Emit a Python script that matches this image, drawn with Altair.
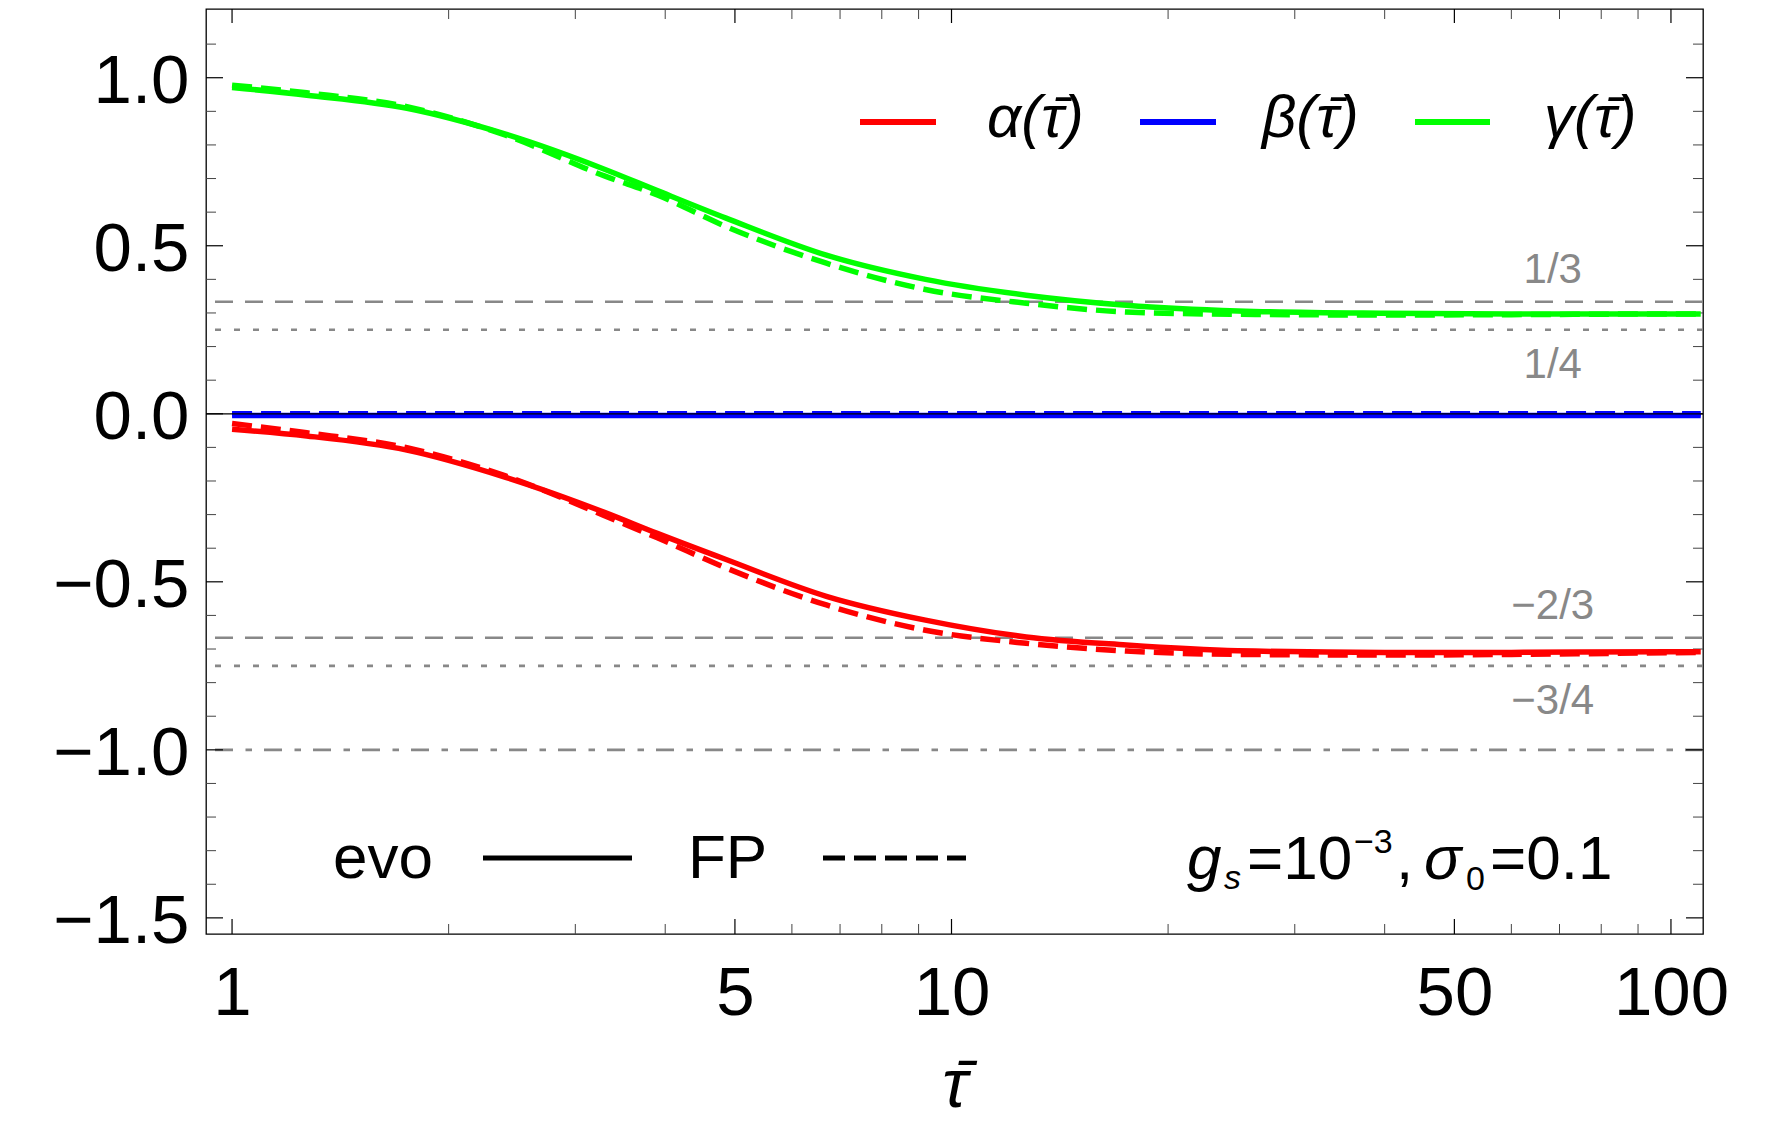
import altair as alt
import pandas as pd

FONT = "Liberation Sans"

# ---- data ----
t_vals = [1, 1.27, 1.75, 2.4, 3.3, 3.9, 4.85, 6.7, 9.2, 12.7, 17.5, 25, 40, 60, 100, 110]
alpha_evo = [-0.046, -0.066, -0.108, -0.189, -0.294, -0.356, -0.433, -0.543, -0.614, -0.664, -0.688, -0.705, -0.710, -0.710, -0.708, -0.708]
alpha_fp = [-0.029, -0.0565, -0.101, -0.185, -0.304, -0.369, -0.458, -0.569, -0.644, -0.683, -0.706, -0.716, -0.718, -0.716, -0.711, -0.710]
beta_evo = [-0.005, -0.005, -0.005, -0.005, -0.005, -0.005, -0.005, -0.005, -0.005, -0.005, -0.005, -0.005, -0.005, -0.005, -0.005, -0.005]
beta_fp = [0.0, 0.0, 0.0, 0.0, 0.0, 0.0, 0.0, 0.0, 0.0, 0.0, 0.0, 0.0, 0.0, 0.0, 0.0, 0.0]
gamma_evo = [0.971, 0.948, 0.909, 0.832, 0.727, 0.664, 0.583, 0.472, 0.400, 0.353, 0.323, 0.306, 0.299, 0.297, 0.297, 0.297]
gamma_fp = [0.978, 0.955, 0.914, 0.829, 0.707, 0.651, 0.558, 0.448, 0.370, 0.329, 0.303, 0.296, 0.294, 0.295, 0.297, 0.297]

funcs = ["alpha", "beta", "gamma"]
func_colors = ["#ff0000", "#0000ff", "#00ff00"]

x_tick_values = [1, 5, 10, 50, 100]
x_minor_ticks = [2, 3, 4, 6, 7, 8, 9, 20, 30, 40, 60, 70, 80, 90]
y_tick_values = [-1.5, -1.0, -0.5, 0.0, 0.5, 1.0]
y_minor_ticks = [-1.4, -1.3, -1.2, -1.1, -0.9, -0.8, -0.7, -0.6, -0.4, -0.3, -0.2, -0.1,
                 0.1, 0.2, 0.3, 0.4, 0.6, 0.7, 0.8, 0.9, 1.1]

ref_dashed = [1 / 3, -2 / 3]
ref_dotted = [1 / 4, -3 / 4]
ref_dashdot = [-1.0]
ref_labels_above = ["1/3", "\u22122/3"]
ref_labels_below = ["1/4", "\u22123/4"]
ref_label_x = 68.5

# ---- build tables ----
rows = []
series = {("alpha", "evo"): alpha_evo, ("alpha", "FP"): alpha_fp,
          ("beta", "evo"): beta_evo, ("beta", "FP"): beta_fp,
          ("gamma", "evo"): gamma_evo, ("gamma", "FP"): gamma_fp}
for (f, m), vals in series.items():
    for t, v in zip(t_vals, vals):
        rows.append({"t": t, "v": v, "func": f, "model": m})
df = pd.DataFrame(rows)

W, H = 1497, 925
xscale = alt.Scale(type="log", domain=[0.92, 110.8], nice=False)
yscale = alt.Scale(domain=[-1.548, 1.2045], nice=False, zero=False)
xaxis = alt.Axis(values=x_tick_values, format="d", labelFont=FONT, labelFontSize=69,
                 labelColor="black", labelPadding=25, ticks=False, tickSize=0, domain=False,
                 grid=False, labelFlush=False, labelOverlap=False,
                 title="\u03c4\u0304", titleFont=FONT, titleFontSize=68, titleFontStyle="italic",
                 titleFontWeight="normal", titleColor="black", titlePadding=24)
yaxis = alt.Axis(values=y_tick_values, format=".1f", labelFont=FONT, labelFontSize=69,
                 labelColor="black", labelPadding=17, ticks=False, tickSize=0, domain=False,
                 grid=False, labelFlush=False, labelOverlap=False, labelOffset=4, title=None)

X = lambda f: alt.X(f, type="quantitative", scale=xscale, axis=xaxis)
Y = lambda f: alt.Y(f, type="quantitative", scale=yscale, axis=yaxis)

color = alt.Color("func:N", scale=alt.Scale(domain=funcs, range=func_colors), legend=None)

fp_lines = alt.Chart(df).transform_filter(alt.datum.model == "FP").mark_line(
    strokeWidth=5.5, interpolate="monotone", strokeDash=[20, 9], clip=True
).encode(x=X("t"), y=Y("v"), color=color, detail="func:N")

evo_lines = alt.Chart(df).transform_filter(alt.datum.model == "evo").mark_line(
    strokeWidth=5.5, interpolate="monotone", clip=True
).encode(x=X("t"), y=Y("v"), color=color, detail="func:N")

GRAY = "#888888"
ref1 = alt.Chart(pd.DataFrame({"y": ref_dashed})).mark_rule(color=GRAY, strokeWidth=2.6, strokeDash=[18, 12]).encode(y=Y("y"))
ref2 = alt.Chart(pd.DataFrame({"y": ref_dotted})).mark_rule(color=GRAY, strokeWidth=2.6, strokeDash=[6, 13]).encode(y=Y("y"))
ref3 = alt.Chart(pd.DataFrame({"y": ref_dashdot})).mark_rule(color=GRAY, strokeWidth=2.6, strokeDash=[18, 12, 6.5, 12.5]).encode(y=Y("y"))

lab_above = alt.Chart(pd.DataFrame({"y": ref_dashed, "lab": ref_labels_above, "x": [ref_label_x] * 2})).mark_text(
    font=FONT, fontSize=42, color=GRAY, align="center", baseline="middle", dy=-32
).encode(x=X("x"), y=Y("y"), text="lab:N")
lab_below = alt.Chart(pd.DataFrame({"y": ref_dotted, "lab": ref_labels_below, "x": [ref_label_x] * 2})).mark_text(
    font=FONT, fontSize=42, color=GRAY, align="center", baseline="middle", dy=35
).encode(x=X("x"), y=Y("y"), text="lab:N")

zero_axis = alt.Chart(pd.DataFrame({"y": [0.0]})).mark_rule(color="black", strokeWidth=1.2).encode(y=Y("y"))

# frame ticks (inward)
dxM = pd.DataFrame({"t": x_tick_values})
dxm = pd.DataFrame({"t": x_minor_ticks})
dyM = pd.DataFrame({"y": y_tick_values})
dym = pd.DataFrame({"y": y_minor_ticks})
ticks = [
    alt.Chart(dxM).mark_rule(color="black", strokeWidth=1.2).encode(x=X("t"), y=alt.value(H), y2=alt.value(H - 15)),
    alt.Chart(dxm).mark_rule(color="#444444", strokeWidth=1).encode(x=X("t"), y=alt.value(H), y2=alt.value(H - 10)),
    alt.Chart(dxM).mark_rule(color="black", strokeWidth=1.2).encode(x=X("t"), y=alt.value(0), y2=alt.value(14)),
    alt.Chart(dxm).mark_rule(color="#444444", strokeWidth=1).encode(x=X("t"), y=alt.value(0), y2=alt.value(10)),
    alt.Chart(dyM).mark_rule(color="black", strokeWidth=1.2).encode(y=Y("y"), x=alt.value(0), x2=alt.value(17)),
    alt.Chart(dym).mark_rule(color="#444444", strokeWidth=1).encode(y=Y("y"), x=alt.value(0), x2=alt.value(10)),
    alt.Chart(dyM).mark_rule(color="black", strokeWidth=1.2).encode(y=Y("y"), x=alt.value(W - 17), x2=alt.value(W)),
    alt.Chart(dym).mark_rule(color="#444444", strokeWidth=1).encode(y=Y("y"), x=alt.value(W - 10), x2=alt.value(W)),
]

one = pd.DataFrame({"k": [0]})


def txt(s, px, py, size, italic=False, align="left", baseline="alphabetic", color="black"):
    return alt.Chart(one).mark_text(
        text=s, font=FONT, fontSize=size, fontStyle="italic" if italic else "normal",
        align=align, baseline=baseline, color=color
    ).encode(x=alt.value(px), y=alt.value(py))


def seg(px1, px2, py, color, width, dash=None):
    kw = dict(color=color, strokeWidth=width)
    if dash:
        kw["strokeDash"] = dash
    return alt.Chart(one).mark_rule(**kw).encode(x=alt.value(px1), x2=alt.value(px2), y=alt.value(py))


TAU = "\u03c4\u0304"
legend = [
    seg(654, 730, 113, "#ff0000", 6), txt("\u03b1(" + TAU + ")", 781, 110, 60, italic=True, baseline="middle"),
    seg(934, 1010, 113, "#0000ff", 6), txt("\u03b2(" + TAU + ")", 1056, 110, 60, italic=True, baseline="middle"),
    seg(1209, 1284, 113, "#00ff00", 6), txt("\u03b3(" + TAU + ")", 1338, 110, 60, italic=True, baseline="middle"),
    txt("evo", 127, 869, 62), seg(277, 426, 849, "black", 5),
    txt("FP", 482, 869, 62), seg(617, 760, 849, "black", 5, [22, 9]),
    # g_s=10^-3, sigma_0=0.1
    txt("g", 981, 870, 62, italic=True),
    txt("s", 1018, 880, 34, italic=True),
    txt("=10", 1041, 870, 62),
    txt("\u22123", 1148, 844, 34),
    txt(",", 1190, 870, 62),
    txt("\u03c3", 1218, 870, 62, italic=True),
    txt("0", 1260, 881, 34),
    txt("=0.1", 1284, 870, 62),
]

chart = alt.layer(
    ref1, ref2, ref3, *ticks, fp_lines, evo_lines, zero_axis, lab_above, lab_below, *legend
).properties(
    width=W, height=H,
    padding={"left": 198, "top": 1, "right": 81, "bottom": 187},
    autosize=alt.AutoSizeParams(type="none"),
    background="white",
).configure_view(stroke="black", strokeWidth=1.3)

chart.save("out.html", embed_options={"renderer": "svg", "actions": False})
